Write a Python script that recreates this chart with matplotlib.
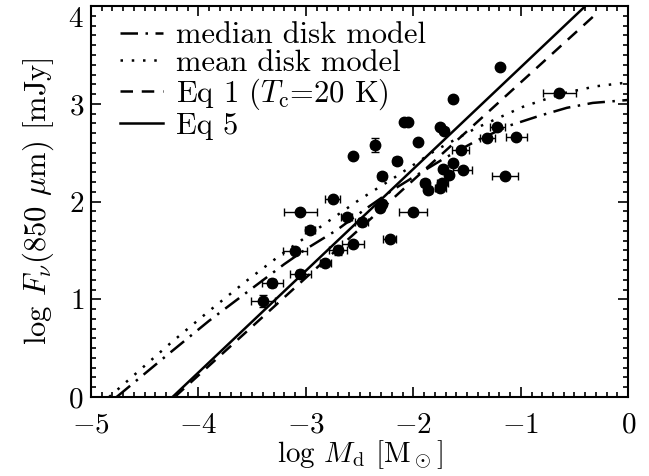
import numpy as np
import matplotlib
matplotlib.use('Agg')
import matplotlib.pyplot as plt
from matplotlib.ticker import MultipleLocator

# measured disks: log Md, log F850, errors
log_md = [-1.19, -0.64, -1.63, -2.09, -2.05, -1.75, -1.71, -1.22, -1.96, -2.36,
          -1.31, -1.04, -2.56, -1.56, -2.15, -1.63, -1.72, -1.54, -1.15, -2.29,
          -1.67, -1.89, -1.73, -1.86, -1.75, -2.75, -2.29, -2.31, -2.00, -3.05,
          -2.62, -2.48, -2.96, -2.22, -2.56, -3.10, -2.70, -2.82, -3.05, -3.31,
          -3.40]
log_f = [3.38, 3.11, 3.05, 2.81, 2.81, 2.76, 2.72, 2.76, 2.61, 2.58,
         2.65, 2.66, 2.47, 2.53, 2.42, 2.40, 2.33, 2.32, 2.26, 2.26,
         2.27, 2.19, 2.19, 2.12, 2.14, 2.03, 1.98, 1.93, 1.89, 1.89,
         1.84, 1.79, 1.71, 1.62, 1.57, 1.49, 1.50, 1.37, 1.26, 1.17,
         0.98]
md_err = [0.02, 0.15, 0.03, 0.02, 0.02, 0.03, 0.03, 0.07, 0.02, 0.03,
          0.07, 0.10, 0.02, 0.08, 0.04, 0.03, 0.03, 0.09, 0.12, 0.04,
          0.03, 0.04, 0.05, 0.03, 0.05, 0.07, 0.03, 0.03, 0.13, 0.15,
          0.05, 0.06, 0.05, 0.06, 0.10, 0.11, 0.08, 0.05, 0.10, 0.10,
          0.11]
f_err = [0.0, 0.0, 0.0, 0.0, 0.0, 0.0, 0.0, 0.0, 0.0, 0.07,
         0.0, 0.0, 0.0, 0.0, 0.04, 0.0, 0.0, 0.0, 0.0, 0.0,
         0.0, 0.0, 0.0, 0.0, 0.0, 0.0, 0.04, 0.0, 0.0, 0.0,
         0.0, 0.04, 0.0, 0.0, 0.0, 0.0, 0.05, 0.0, 0.04, 0.04,
         0.06]

# model curves
median_x = [-4.76, -4.3, -3.9, -3.49, -3.2, -2.99, -2.71, -2.45, -2.19, -1.94,
            -1.7, -1.4, -1.1, -0.82, -0.57, -0.33, 0.0]
median_y = [0.0, 0.42, 0.78, 1.12, 1.36, 1.52, 1.71, 1.92, 2.12, 2.29,
            2.45, 2.63, 2.78, 2.88, 2.96, 3.01, 3.04]
mean_x = [-4.83, -4.26, -3.9, -3.55, -3.24, -2.84, -2.5, -2.17, -1.8, -1.42,
          -0.98, -0.6, -0.3, 0.0]
mean_y = [0.0, 0.55, 0.88, 1.19, 1.45, 1.76, 2.02, 2.25, 2.52, 2.75,
          2.97, 3.11, 3.18, 3.22]
eq1_x = [-4.22, -0.33]
eq1_y = [0.0, 3.89]
eq5_x = [-4.24, -0.40]
eq5_y = [0.0, 4.0]

xticks = [-5, -4, -3, -2, -1, 0]
yticks = [0, 1, 2, 3, 4]

plt.rcParams['font.family'] = 'serif'
plt.rcParams['font.serif'] = ['cmr10']
plt.rcParams['mathtext.fontset'] = 'cm'
plt.rcParams['axes.formatter.use_mathtext'] = True
plt.rcParams['axes.unicode_minus'] = True

fig = plt.figure(figsize=(6.49, 4.76), dpi=100)
ax = fig.add_axes([0.140, 0.166, 0.828, 0.821])

lw = 1.8
ax.plot(median_x, median_y, color='k', lw=lw, dashes=(7, 3, 1, 3),
        label='median disk model')
ax.plot(mean_x, mean_y, color='k', lw=lw, dashes=(1, 3.5),
        label='mean disk model')
ax.plot(eq1_x, eq1_y, color='k', lw=lw, dashes=(5, 3.5),
        label=r'Eq 1 ($T_{\rm c}$=20 K)')
ax.plot(eq5_x, eq5_y, color='k', lw=lw, label='Eq 5')

ax.errorbar(log_md, log_f, xerr=md_err, yerr=f_err, fmt='o', color='k',
            ms=7.5, elinewidth=1, capsize=3, capthick=1)

ax.set_xlim(-5, 0)
ax.set_ylim(0, 4)
ax.set_xticks(xticks)
ax.set_yticks(yticks)
ax.xaxis.set_minor_locator(MultipleLocator(0.1))
ax.yaxis.set_minor_locator(MultipleLocator(0.1))
ax.tick_params(which='both', direction='in', top=True, right=True,
               labelsize=21, width=1.2)
ax.tick_params(which='major', length=7)
ax.tick_params(which='minor', length=3.5)
ax.tick_params(axis='x', which='major', pad=11)
ax.tick_params(axis='y', which='major', pad=5)
for s in ax.spines.values():
    s.set_linewidth(1.5)

# keep the top y label inside the frame like the original
ax.yaxis.get_major_ticks()[-1].label1.set_verticalalignment('top')

ax.set_xlabel(r'log $M_{\rm d}$ [M$_\odot$]', fontsize=21, labelpad=0)
ax.set_ylabel(r'log $F_\nu$(850 $\mu$m) [mJy]', fontsize=22, labelpad=9)

ax.legend(loc='upper left', bbox_to_anchor=(0.055, 0.96), frameon=False,
          fontsize=22, handlelength=1.4, handletextpad=0.43,
          labelspacing=0.0, borderpad=0, borderaxespad=0)

fig.savefig('out.png', dpi=100)
